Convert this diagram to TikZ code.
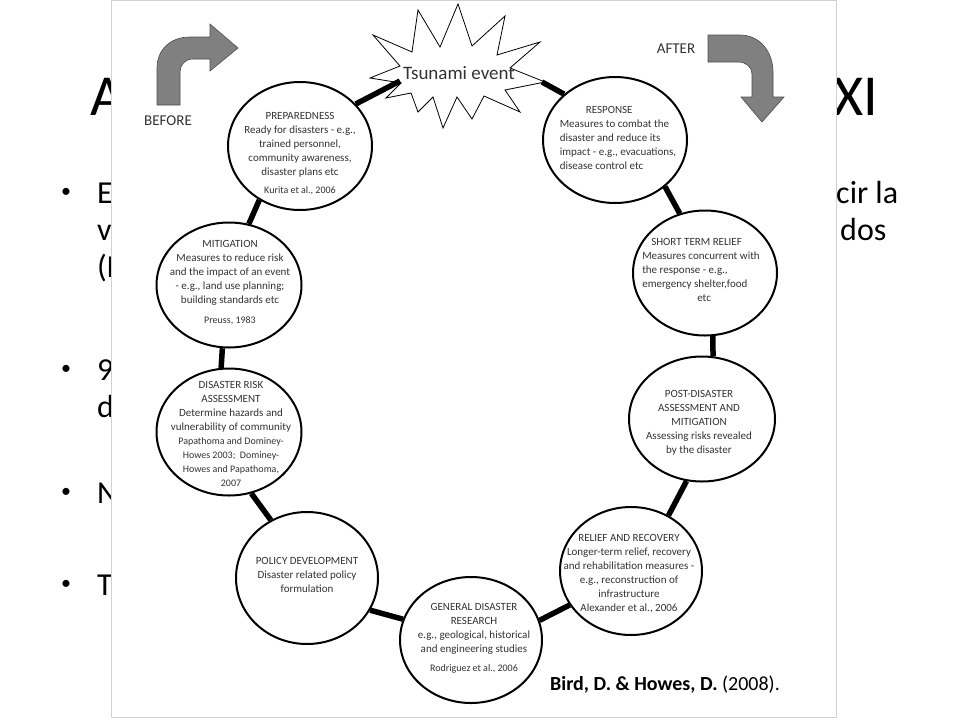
\documentclass[tikz,border=0pt]{standalone}
\usepackage{fontspec}
\setmainfont{Carlito}
\newfontfamily\cyclefont{Carlito}
\usetikzlibrary{shapes.geometric}

\definecolor{arrowgray}{HTML}{808080}
\definecolor{stagegray}{HTML}{333333}
\newcommand\refsize{\fontsize{10}{13}\selectfont}

\begin{document}
\begin{tikzpicture}[x=1pt, y=-1pt,
    stage/.style n args={2}{ellipse, draw, line width=2pt, fill=white, minimum width=#1, minimum height=#2, inner sep=0pt},
    stagetext/.style={font=\cyclefont\fontsize{11}{14}\selectfont, text=stagegray, align=center, inner sep=0pt},
    link/.style={line width=5.5pt},
    bigarrow/.style={fill=arrowgray, draw=arrowgray!60!black, line width=0.6pt},
    slide/.style={font=\fontsize{32}{38}\selectfont, anchor=base west, inner sep=0pt},
]
\useasboundingbox (0,0) rectangle (960,720);

% slide behind the figure
\node[slide, font=\fontsize{58}{60}\selectfont] (titleA) at (90,115) {A};
\node[slide, font=\fontsize{58}{60}\selectfont] (titleXI) at (833,115) {XI};
\foreach \y in {193,370,493,585}
    \node[font=\fontsize{20}{20}\selectfont, inner sep=0pt] at (66,\y) {\textbullet};
\node[slide] (b1a) at (97,203) {E};
\node[slide] (b1b) at (97,240) {v};
\node[slide] (b1c) at (97,277) {(D};
\node[slide] (b1r) at (836,203) {cir la};
\node[slide] (b1s) at (840,240) {dos};
\node[slide] (b2a) at (97,380) {9};
\node[slide] (b2b) at (97,417) {d};
\node[slide] (b3a) at (97,503) {N};
\node[slide] (b4a) at (97,595) {To};

% the figure
\draw[gray!35, fill=white] (111,0) rectangle (836,717);

\draw[bigarrow] (157,105) -- (157,68) .. controls (157,50) and (170,37) .. (190,37) -- (210,37)
    -- (210,24) -- (238,48) -- (210,71) -- (210,59) -- (193,59) .. controls (185,59) and (180,65) .. (180,72) -- (180,105) -- cycle;
\node[font=\cyclefont\fontsize{15}{16}\selectfont, text=stagegray] (before) at (168,121) {BEFORE};

\draw[bigarrow] (708,35) -- (740,35) .. controls (760,35) and (773,52) .. (773,72) -- (773,97)
    -- (784,97) -- (762,122) -- (741,97) -- (752,97) -- (752,74) .. controls (752,67) and (746,62) .. (738,62) -- (708,62) -- cycle;
\node[font=\cyclefont\fontsize{15}{16}\selectfont, text=stagegray] (after) at (676,49) {AFTER};

% tsunami star
\draw[fill=white, line width=0.8pt] (370,78) -- (400,66) -- (373,35) -- (412,52) -- (418,10) -- (440,47)
    -- (458,4) -- (472,46) -- (505,16) -- (497,55) -- (540,42) -- (510,68) -- (545,82) -- (505,90)
    -- (520,112) -- (484,96) -- (472,119) -- (457,97) -- (443,128) -- (433,97) -- (418,112) -- (411,93)
    -- (386,98) -- (401,83) -- cycle;
\node[font=\cyclefont\fontsize{19}{20}\selectfont, text=stagegray] (tsunami) at (459,73) {Tsunami event};
\coordinate (tsw) at (400,81);
\coordinate (tse) at (542,82);

% stages of the cycle
\node[stage={144}{128}] (prep) at (300,146) {};
\node[stage={144}{126}] (resp) at (615,140) {};
\node[stage={144}{125}] (shortrel) at (705,273) {};
\node[stage={146}{125}] (postdis) at (702,419) {};
\node[stage={142}{128}] (relief) at (631,571) {};
\node[stage={142}{126}] (research) at (471,640) {};
\node[stage={142}{132}] (policy) at (307,578) {};
\node[stage={145}{127}] (riskas) at (229,432) {};
\node[stage={145}{125}] (mitig) at (229,285) {};

\node[stagetext] at (300,154) {PREPAREDNESS\\Ready for disasters - e.g.,\\trained personnel,\\community awareness,\\disaster plans etc\\[4pt]{\refsize Kurita et al., 2006}};
\node[stagetext, align=left] at (618,138) {\hspace*{26pt}RESPONSE\\Measures to combat the\\disaster and reduce its\\impact - e.g., evacuations,\\disease control etc};
\node[stagetext, align=left] at (701,270) {\hspace*{9pt}SHORT TERM RELIEF\\Measures concurrent with\\the response - e.g.,\\emergency shelter,food\\\hspace*{55pt}etc};
\node[stagetext] at (699,423) {POST-DISASTER\\ASSESSMENT AND\\MITIGATION\\Assessing risks revealed\\by the disaster};
\node[stagetext] at (629,574) {RELIEF AND RECOVERY\\Longer-term relief, recovery\\and rehabilitation measures -\\e.g., reconstruction of\\infrastructure\\Alexander et al., 2006};
\node[stagetext] at (474,638) {GENERAL DISASTER\\RESEARCH\\e.g., geological, historical\\and engineering studies\\[5pt]{\refsize Rodriguez et al., 2006}};
\node[stagetext] at (307,575) {POLICY DEVELOPMENT\\Disaster related policy\\formulation};
\node[stagetext] at (231,434) {DISASTER RISK\\ASSESSMENT\\Determine hazards and\\vulnerability of community\\{\refsize Papathoma and Dominey-}\\{\refsize Howes 2003;\ \ Dominey-}\\{\refsize Howes and Papathoma,}\\{\refsize 2007}};
\node[stagetext] at (230,283) {MITIGATION\\Measures to reduce risk\\and the impact of an event\\- e.g., land use planning;\\building standards etc\\[6pt]{\refsize Preuss, 1983}};

% links round the cycle
\draw[link] (prep.37) -- (tsw);
\draw[link] (resp.138) -- (tse);
\draw[link] (resp.317) -- (shortrel.113);
\draw[link] (shortrel.277) -- (postdis.80);
\draw[link] (postdis.256) -- (relief.56);
\draw[link] (relief.209) -- (research.16);
\draw[link] (research.163) -- (policy.333);
\draw[link] (policy.122) -- (riskas.290);
\draw[link] (riskas.97) -- (mitig.264);
\draw[link] (mitig.72) -- (prep.233);

\node[anchor=base west, inner sep=0pt, font=\fontsize{20}{22}\selectfont] (source) at (550,690) {\textbf{Bird, D. \& Howes, D.} (2008).};
\end{tikzpicture}
\end{document}
